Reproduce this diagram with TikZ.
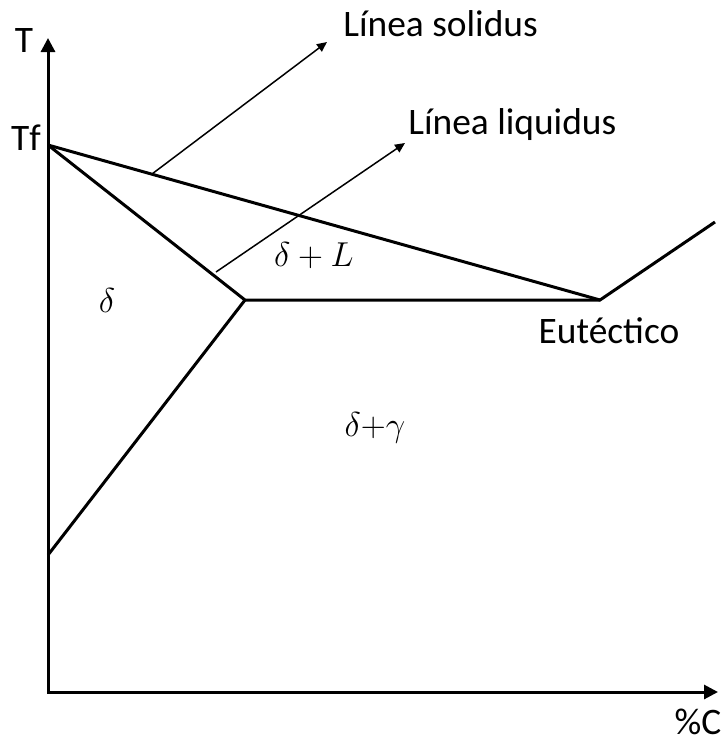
\documentclass[tikz,border=0pt]{standalone}
\usepackage{fontspec}
\setmainfont{Carlito}
\usetikzlibrary{arrows.meta}

\begin{document}
\begin{tikzpicture}[x=0.5pt,y=-0.5pt,
  fase/.style={line width=1.5pt},
  flecha/.style={line width=0.75pt,-{Triangle[length=5pt,width=4.5pt]}},
  every node/.style={font=\fontsize{18.7}{22}\selectfont, inner sep=0pt}]
\useasboundingbox (0,0) rectangle (725,741);

% ejes
\coordinate (O) at (48,692);
\coordinate (Ttip) at (48,38);
\coordinate (Ctip) at (718,692);
\draw[line width=1.5pt, {Triangle[length=7pt,width=7pt]}-{Triangle[length=7pt,width=7pt]}] (Ttip) -- (O) -- (Ctip);
\node (T) at (24,40) {T};
\node (C) at (698,722) {\%C};

% puntos del diagrama
\coordinate (Tf) at (48,145);
\coordinate (P) at (245,300);
\coordinate (E) at (600,300);
\coordinate (B) at (48,555);
\coordinate (R) at (715,222);
\node (Tflab) at (26,138) {Tf};

\draw[fase] (Tf) -- (E) -- (R);
\draw[fase] (Tf) -- (P) -- (E);
\draw[fase] (P) -- (B);

% flechas de las lineas
\coordinate (s1) at (152,174);
\coordinate (s2) at (327,42);
\coordinate (l1) at (216,272);
\coordinate (l2) at (405,143);
\draw[flecha] (s1) -- (s2);
\draw[flecha] (l1) -- (l2);
\node[anchor=west] (sol) at (343,24) {Línea solidus};
\node[anchor=west] (liq) at (408,125) {Línea liquidus};

% fases
\node (d) at (107,300) {$\delta$};
\node (dL) at (314,256) {$\delta + L$};
\node (dg) at (375,428) {$\delta{+}\gamma$};
\node (eut) at (609,331) {Eutéctico};

\end{tikzpicture}
\end{document}
